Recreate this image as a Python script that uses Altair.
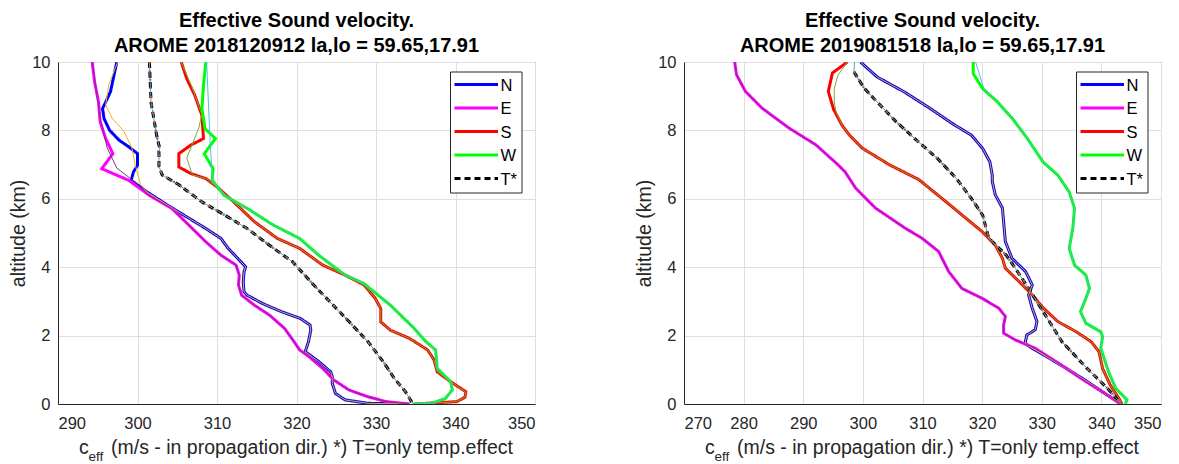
import altair as alt
import pandas as pd

FONT = "Liberation Sans"
SER = ["N", "E", "S", "W", "T*"]
THICK_COLS = ["#0000ff", "#ff00ff", "#ff0000", "#00ff00", "#000000"]
DASHES = [[1, 0], [1, 0], [1, 0], [1, 0], [6, 4]]
THIN_COLS = {"N": "#EDB120", "E": "#7E2F8E", "S": "#77AC30", "W": "#4DBEEE", "T": "#4A9FD8"}
DOT_COL = "#D95319"

TITLE1 = "Effective Sound velocity."
TITLE_L = "AROME 2018120912 la,lo = 59.65,17.91"
TITLE_R = "AROME 2019081518 la,lo = 59.65,17.91"
YLAB = "altitude (km)"
XLAB_C = "c"
XLAB_SUB = "eff"
XLAB_MAIN = "(m/s - in propagation dir.) *) T=only temp.effect"

# ---------------- left panel (2018120912) ----------------
L_N_alt = [10, 9.13, 8.83, 8.64, 8.34, 8.0, 7.71, 7.52, 7.32, 6.98, 6.79, 6.54, 6.20, 5.81, 5.47, 5.13, 4.84, 4.55,
           4.26, 4.01, 3.87, 3.57, 3.28, 3.18, 2.94, 2.70, 2.50, 2.31, 2.16, 1.82, 1.53, 1.24, 0.94, 0.80, 0.60, 0.31,
           0.12, 0.02, 0.0]
L_N_v = [297.4, 296.6, 296.0, 295.6, 295.8, 296.5, 297.7, 298.9, 300.0, 300.0, 299.5, 299.2, 301.2, 303.8, 306.2,
         308.6, 310.5, 311.4, 312.6, 313.6, 313.4, 313.3, 313.4, 313.8, 315.7, 318.1, 320.5, 321.7, 321.8, 321.5,
         321.1, 322.8, 324.3, 324.5, 324.5, 324.9, 326.1, 329.0, 334.2]
L_Nthin_alt = [10, 9.34, 8.75, 8.36, 7.97, 7.48, 7.0, 6.41]
L_Nthin_v = [297.5, 296.4, 296.0, 296.8, 298.3, 299.3, 299.7, 300.4]

L_E_alt = [10, 9.42, 8.83, 8.25, 7.76, 7.32, 7.13, 6.88, 6.54, 6.10, 5.72, 5.13, 4.74, 4.35, 4.06, 3.77, 3.48, 3.18,
           2.89, 2.60, 2.21, 1.82, 1.58, 1.38, 1.04, 0.70, 0.41, 0.21, 0.07, 0]
L_E_v = [294.3, 294.6, 295.1, 295.3, 296.0, 296.9, 296.3, 295.5, 298.9, 301.5, 304.3, 306.9, 308.6, 310.5, 312.4,
         312.8, 312.7, 313.1, 314.7, 316.6, 318.5, 319.7, 320.4, 321.6, 323.3, 324.7, 326.6, 329.0, 331.3, 334.2]
L_Ethin_alt = [10, 8.36, 7.48, 6.9, 6.56]
L_Ethin_v = [294.3, 295.3, 296.2, 297.4, 299.3]

L_S_alt = [10, 9.51, 9.03, 8.44, 7.76, 7.57, 7.32, 6.93, 6.74, 6.59, 6.35, 5.91, 5.33, 4.84, 4.55, 4.06, 3.77, 3.48,
           3.09, 2.79, 2.40, 2.16, 1.92, 1.58, 1.29, 0.94, 0.65, 0.36, 0.20, 0.07, 0]
L_S_v = [305.5, 306.2, 307.2, 308.1, 308.3, 306.7, 305.2, 305.2, 306.7, 308.6, 310.0, 312.1, 314.7, 317.6, 320.4,
         323.3, 326.1, 328.5, 329.9, 330.6, 330.6, 331.8, 334.2, 336.5, 337.3, 337.7, 339.4, 341.3, 341.2, 340.2,
         334.8]
L_Sthin_alt = [10, 9.24, 8.46, 8.07, 7.19, 6.70]
L_Sthin_v = [305.5, 306.9, 308.1, 307.7, 306.2, 306.9]

L_W_alt = [10, 9.32, 8.64, 8.05, 7.76, 7.32, 6.88, 6.54, 6.10, 5.72, 5.23, 4.84, 4.35, 3.77, 3.52, 2.89, 2.26, 1.82,
           1.58, 1.04, 0.65, 0.41, 0.16, 0.02, 0]
L_W_v = [308.6, 308.3, 308.1, 308.5, 309.8, 308.4, 309.5, 309.4, 310.9, 313.8, 317.1, 320.4, 322.8, 326.1, 328.5,
         331.8, 334.6, 336.3, 337.5, 337.7, 339.4, 339.6, 338.7, 337.0, 334.6]
L_Wthin_alt = [10, 8.36, 7.39, 6.70]
L_Wthin_v = [308.7, 309.0, 309.2, 309.4]

L_T_alt = [10, 8.83, 7.86, 7.47, 7.39, 6.95, 6.70, 6.41, 5.91, 5.52, 5.13, 4.64, 4.16, 3.57, 2.99, 2.41, 1.82, 1.24,
           0.75, 0.36, 0.02, 0]
L_T_v = [301.5, 301.7, 302.4, 302.8, 302.7, 302.7, 303.1, 305.2, 308.1, 311.0, 313.8, 316.6, 319.5, 321.8, 324.2,
         326.6, 329.0, 330.9, 332.3, 333.7, 334.6, 334.7]

# ---------------- right panel (2019081518) ----------------
R_N_alt = [10, 9.56, 9.13, 8.64, 8.20, 7.86, 7.47, 7.08, 6.69, 6.51, 6.12, 5.73, 4.75, 4.26, 3.87, 3.48, 3.19, 2.80,
           2.41, 2.17, 2.02, 1.77, 1.63, 1.14, 0.75, 0.26, 0]
R_N_v = [299.6, 302.4, 306.9, 311.3, 315.0, 318.2, 320.1, 321.3, 321.7, 321.7, 322.2, 323.4, 323.9, 325.0, 327.3,
         328.4, 327.8, 328.4, 329.2, 328.9, 327.5, 327.2, 328.4, 333.2, 336.8, 341.0, 343.4]

R_E_alt = [10, 9.63, 9.14, 8.65, 8.07, 7.58, 7.0, 6.79, 6.31, 5.73, 5.14, 4.85, 4.46, 3.87, 3.38, 3.09, 2.80, 2.56,
           2.31, 2.07, 1.87, 1.63, 1.09, 0.70, 0.31, 0.07, 0]
R_E_v = [278.5, 278.8, 280.3, 283.1, 287.6, 292.1, 295.8, 297.0, 298.8, 302.1, 307.1, 309.9, 312.7, 314.4, 316.6,
         320.0, 322.8, 323.9, 323.6, 323.6, 325.6, 328.9, 333.7, 337.0, 340.6, 342.6, 343.4]

R_S_alt = [10, 9.68, 9.14, 8.61, 8.15, 7.87, 7.48, 7.0, 6.56, 5.92, 5.53, 5.04, 4.65, 4.26, 3.97, 3.58, 3.19, 2.80,
           2.41, 2.11, 1.82, 1.53, 1.04, 0.55, 0.12, 0]
R_S_v = [297.4, 294.9, 294.2, 295.1, 296.5, 297.7, 299.9, 304.4, 309.4, 313.9, 316.6, 320.0, 322.2, 323.4, 323.9,
         326.2, 328.4, 330.3, 332.7, 335.8, 338.3, 339.6, 340.2, 341.5, 343.1, 343.4]
R_Sthin_alt = [10, 9.61, 9.22, 8.83, 8.54]
R_Sthin_v = [297.4, 295.8, 295.2, 295.2, 295.5]

R_W_alt = [10, 9.66, 9.22, 8.83, 8.34, 7.76, 7.08, 6.69, 6.20, 5.72, 5.13, 4.55, 4.06, 3.77, 3.38, 3.09, 2.70, 2.36,
           2.11, 1.97, 1.63, 0.94, 0.46, 0.12, 0]
R_W_v = [318.5, 318.5, 320.1, 322.6, 325.1, 327.6, 330.2, 332.7, 334.6, 335.5, 335.2, 334.6, 335.5, 337.4, 338.0,
         337.4, 336.5, 337.4, 339.9, 340.2, 339.9, 341.2, 342.4, 344.3, 344.0]
R_Wthin_alt = [10, 9.22]
R_Wthin_v = [318.9, 320.3]

R_T_alt = [9.71, 9.24, 8.83, 8.25, 7.76, 7.18, 6.59, 6.01, 5.52, 4.85, 4.36, 3.96, 3.38, 2.79, 2.21, 1.82, 1.04, 0.46, 0]
R_T_v = [298.5, 300.2, 302.4, 305.6, 308.7, 312.5, 315.7, 318.2, 320.1, 321.1, 324.0, 325.6, 327.8, 329.9, 332.0,
         333.4, 337.6, 341.0, 343.4]
R_Tthin_alt = [10.0]
R_Tthin_v = [298.6]


def join(top_alt, top_v, alt_full, v_full, below):
    a = list(top_alt) + [x for x in alt_full if x < below]
    v = list(top_v) + [y for x, y in zip(alt_full, v_full) if x < below]
    return a, v


def long_df(series):
    rows = []
    for name, a, v, col in series:
        for i, (aa, vv) in enumerate(zip(a, v)):
            rows.append({"s": name, "alt": aa, "v": vv, "i": i, "c": col})
    return pd.DataFrame(rows)


def legend_layers():
    # legend box inside the plot, top-right corner (positions relative to the plot area)
    bx0, bx1, by0, by1 = 392.5, 464, 10, 131
    lx0, lx1, tx = 396.5, 440, 442.5
    row0, dy = 22.6, 23.5
    layers = [alt.Chart(pd.DataFrame({"t": ["box"]})).mark_rect(
        fill="white", stroke="#262626", strokeWidth=1).encode(
        x=alt.value(bx0), x2=alt.value(bx1), y=alt.value(by0), y2=alt.value(by1))]
    for k, (name, col, dash) in enumerate(zip(SER, THICK_COLS, DASHES)):
        yy = row0 + k * dy
        d = pd.DataFrame({"t": [name]})
        layers.append(alt.Chart(d).mark_rule(color=col, strokeWidth=3, strokeDash=dash).encode(
            x=alt.value(lx0), x2=alt.value(lx1), y=alt.value(yy)))
        layers.append(alt.Chart(d).mark_text(font=FONT, fontSize=16.5, align="left", baseline="middle",
                                             color="#000000").encode(
            text="t:N", x=alt.value(tx), y=alt.value(yy + 1)))
    return layers


def panel(thick, thin, tline, xdom, xticks, sub):
    W, H = 477, 342
    df_thick = long_df([(n, a, v, "") for n, a, v in thick])
    df_thin = long_df(thin)
    df_t = long_df([("T", tline[0], tline[1], "")])

    xs = alt.Scale(domain=xdom, nice=False, zero=False)
    ys = alt.Scale(domain=[0, 10], nice=False, zero=False)
    xax = alt.Axis(values=xticks, title=None, grid=True, ticks=False, labelPadding=11, labelFontSize=16.5,
                   labelFont=FONT, labelColor="#262626", domainColor="#262626", gridColor="#dfdfdf")
    yax = alt.Axis(values=[0, 2, 4, 6, 8, 10], title=YLAB, grid=True, ticks=False, labelPadding=8,
                   labelFontSize=16.5, labelFont=FONT, labelColor="#262626", domainColor="#262626",
                   gridColor="#dfdfdf", titleFont=FONT, titleFontSize=19.5, titleFontWeight="normal",
                   titleColor="#262626", titlePadding=3)
    X = alt.X("v:Q", scale=xs, axis=xax)
    Y = alt.Y("alt:Q", scale=ys, axis=yax)

    thick_l = alt.Chart(df_thick).mark_line(strokeWidth=3, clip=True).encode(
        x=X, y=Y,
        color=alt.Color("s:N", scale=alt.Scale(domain=SER, range=THICK_COLS), legend=None),
        strokeDash=alt.StrokeDash("s:N", scale=alt.Scale(domain=SER, range=DASHES), legend=None),
        order=alt.Order("i:Q"))
    thin_l = alt.Chart(df_thin).mark_line(strokeWidth=1, clip=True).encode(
        x=X, y=Y, color=alt.Color("c:N", scale=None), detail="s:N", order=alt.Order("i:Q"))
    dots = alt.Chart(df_t).mark_line(strokeWidth=2.5, strokeDash=[1.5, 7], color=DOT_COL, clip=True).encode(
        x=X, y=Y, order=alt.Order("i:Q"))

    lab = pd.DataFrame({"c": [XLAB_C], "sub": [XLAB_SUB], "main": [XLAB_MAIN]})
    t_c = alt.Chart(lab).mark_text(font=FONT, fontSize=19.5, align="left", baseline="alphabetic",
                                   color="#262626").encode(text="c:N", x=alt.value(21), y=alt.value(H + 50))
    t_sub = alt.Chart(lab).mark_text(font=FONT, fontSize=13.5, align="left", baseline="alphabetic",
                                     color="#262626").encode(text="sub:N", x=alt.value(30.5), y=alt.value(H + 57))
    t_main = alt.Chart(lab).mark_text(font=FONT, fontSize=19.5, align="left", baseline="alphabetic",
                                      color="#262626").encode(text="main:N", x=alt.value(53), y=alt.value(H + 50))

    return alt.layer(thick_l, thin_l, dots, t_c, t_sub, t_main, *legend_layers()).properties(
        width=W, height=H,
        title=alt.TitleParams(text=[TITLE1, sub], font=FONT, fontSize=20, fontWeight="bold", color="#000000",
                              lineHeight=24.7, anchor="middle", offset=-2))


L_thin = [
    ("N", *join(L_Nthin_alt, L_Nthin_v, L_N_alt, L_N_v, 6.3), THIN_COLS["N"]),
    ("E", *join(L_Ethin_alt, L_Ethin_v, L_E_alt, L_E_v, 6.5), THIN_COLS["E"]),
    ("S", *join(L_Sthin_alt, L_Sthin_v, L_S_alt, L_S_v, 6.65), THIN_COLS["S"]),
    ("W", *join(L_Wthin_alt, L_Wthin_v, L_W_alt, L_W_v, 6.6), THIN_COLS["W"]),
    ("T", L_T_alt, L_T_v, THIN_COLS["T"]),
]
R_thin = [
    ("N", R_N_alt, R_N_v, THIN_COLS["N"]),
    ("E", R_E_alt, R_E_v, THIN_COLS["E"]),
    ("S", *join(R_Sthin_alt, R_Sthin_v, R_S_alt, R_S_v, 8.3), THIN_COLS["S"]),
    ("W", *join(R_Wthin_alt, R_Wthin_v, R_W_alt, R_W_v, 9.0), THIN_COLS["W"]),
    ("T", *join(R_Tthin_alt, R_Tthin_v, R_T_alt, R_T_v, 9.9), THIN_COLS["T"]),
]

left = panel([("N", L_N_alt, L_N_v), ("E", L_E_alt, L_E_v), ("S", L_S_alt, L_S_v), ("W", L_W_alt, L_W_v),
              ("T*", L_T_alt, L_T_v)], L_thin, (L_T_alt, L_T_v), [290, 350], list(range(290, 351, 10)), TITLE_L)
right = panel([("N", R_N_alt, R_N_v), ("E", R_E_alt, R_E_v), ("S", R_S_alt, R_S_v), ("W", R_W_alt, R_W_v),
               ("T*", R_T_alt, R_T_v)], R_thin, (R_T_alt, R_T_v), [270, 350], list(range(270, 351, 10)), TITLE_R)

chart = alt.hconcat(left, right, spacing=98).resolve_scale(color="independent", strokeDash="independent").properties(
    padding={"left": 8, "top": 10, "right": 5, "bottom": 0}, background="white"
).configure_view(stroke="#262626", strokeWidth=1)

chart.save("out.html", embed_options={"renderer": "svg", "actions": False})
